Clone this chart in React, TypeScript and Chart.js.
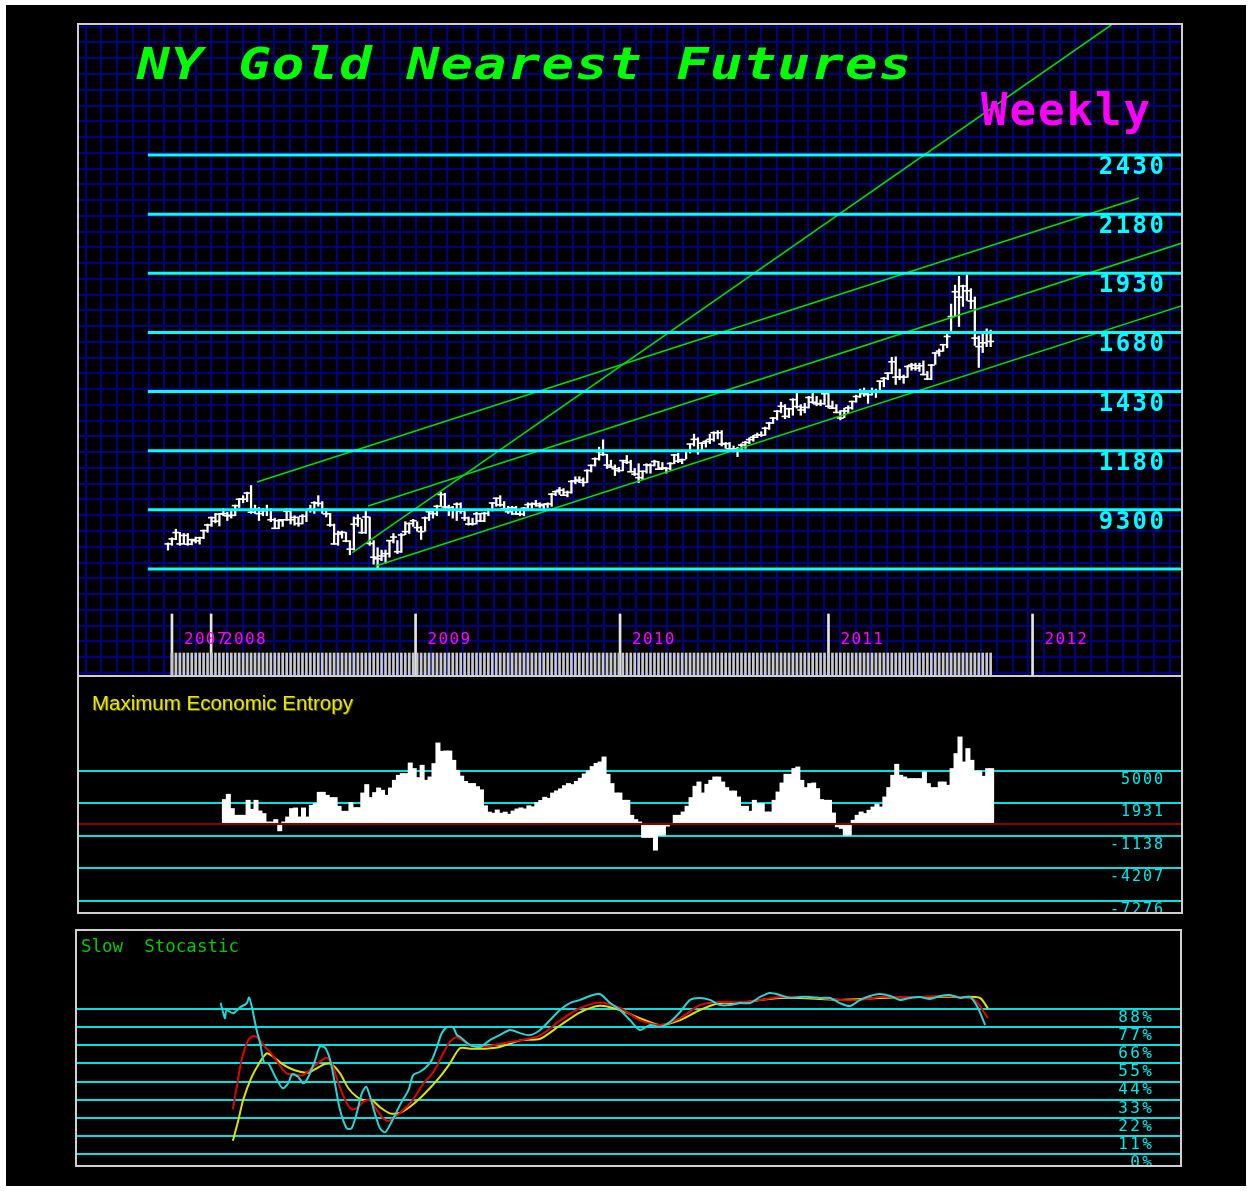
import React, { useEffect, useRef } from 'react';
import { Chart, registerables } from 'chart.js';

Chart.register(...registerables);

// ---------------- data ----------------
// weekly bars, week 0 = late Oct 2007
const weekHigh = [
  790, 812, 848, 835, 830, 830, 806, 815, 815, 845, 870,
  900, 915, 915, 935, 920, 925, 950, 978, 990, 1005,
  1033, 950, 940, 935, 950, 935, 895, 890, 890, 935,
  935, 905, 900, 910, 930, 950, 965, 990, 965, 935,
  915, 870, 840, 840, 835, 800, 900, 910, 890, 925,
  900, 800, 770, 760, 760, 800, 830, 800, 830, 880,
  875, 890, 880, 860, 900, 920, 925, 950, 1005, 1000,
  950, 945, 960, 960, 930, 900, 895, 920, 915, 920,
  935, 960, 980, 990, 965, 945, 945, 945, 925, 940,
  960, 960, 970, 960, 955, 960, 1000, 1010, 1025, 1020,
  1010, 1055, 1070, 1070, 1065, 1100, 1120, 1150, 1195, 1226,
  1165, 1140, 1120, 1110, 1140, 1160, 1140, 1105, 1125, 1095,
  1125, 1125, 1140, 1135, 1130, 1110, 1130, 1165, 1170, 1145,
  1180, 1210, 1250, 1235, 1215, 1225, 1250, 1260, 1265, 1265,
  1215, 1215, 1200, 1195, 1210, 1220, 1235, 1245, 1255, 1260,
  1280, 1300, 1320, 1350, 1385, 1375, 1360, 1400, 1425, 1375,
  1380, 1410, 1432, 1410, 1395, 1425, 1425, 1390, 1375, 1350,
  1360, 1370, 1390, 1415, 1440, 1445, 1430, 1445, 1440, 1475,
  1490, 1510, 1575, 1577, 1525, 1500, 1540, 1550, 1550, 1550,
  1560, 1515, 1545, 1595, 1610, 1630, 1680, 1800, 1880, 1917,
  1880, 1923, 1865, 1830, 1665, 1680, 1695, 1690,
];
const weekLow = [
  760, 780, 804, 780, 785, 780, 782, 790, 785, 808, 835,
  860, 875, 862, 905, 885, 895, 905, 940, 960, 965,
  915, 915, 885, 905, 905, 880, 850, 850, 860, 885,
  870, 865, 860, 870, 880, 920, 915, 945, 915, 900,
  860, 785, 780, 810, 795, 740, 760, 860, 830, 830,
  780, 700, 681, 715, 705, 730, 790, 745, 750, 825,
  830, 860, 840, 805, 840, 885, 895, 905, 945, 935,
  905, 895, 885, 915, 885, 865, 865, 870, 880, 880,
  905, 925, 945, 945, 930, 915, 910, 910, 905, 905,
  935, 930, 945, 940, 935, 940, 945, 990, 995, 990,
  985, 1000, 1040, 1045, 1030, 1045, 1090, 1115, 1140, 1160,
  1105, 1110, 1075, 1090, 1095, 1125, 1090, 1075, 1045, 1058,
  1085, 1085, 1115, 1100, 1100, 1085, 1100, 1125, 1130, 1125,
  1145, 1170, 1200, 1165, 1180, 1195, 1210, 1220, 1230, 1200,
  1190, 1185, 1175, 1155, 1175, 1190, 1210, 1220, 1235, 1240,
  1245, 1270, 1295, 1310, 1340, 1315, 1320, 1330, 1360, 1330,
  1340, 1360, 1380, 1370, 1370, 1375, 1360, 1360, 1340, 1310,
  1320, 1340, 1355, 1385, 1405, 1410, 1380, 1415, 1405, 1425,
  1450, 1480, 1505, 1460, 1480, 1465, 1490, 1520, 1520, 1515,
  1500, 1480, 1480, 1545, 1580, 1600, 1615, 1680, 1750, 1705,
  1790, 1815, 1780, 1625, 1532, 1595, 1620, 1620,
];
const weekClose = [
  786, 807, 834, 786, 822, 785, 804, 799, 812, 842, 866,
  897, 882, 912, 914, 905, 907, 948, 975, 975, 1001,
  920, 933, 914, 926, 930, 888, 852, 884, 888, 924,
  888, 898, 872, 903, 929, 933, 960, 957, 928, 913,
  866, 786, 828, 835, 798, 764, 869, 894, 834, 900,
  788, 730, 723, 735, 745, 800, 815, 753, 824, 838,
  872, 884, 855, 838, 896, 922, 914, 945, 995, 942,
  940, 929, 954, 924, 896, 870, 871, 913, 883, 915,
  930, 959, 979, 951, 935, 922, 939, 913, 912, 937,
  952, 954, 956, 948, 953, 955, 996, 1007, 1013, 992,
  1004, 1050, 1052, 1056, 1046, 1096, 1118, 1146, 1176, 1164,
  1119, 1111, 1104, 1096, 1138, 1131, 1091, 1081, 1066, 1093,
  1120, 1118, 1134, 1102, 1107, 1105, 1126, 1162, 1136, 1142,
  1180, 1208, 1228, 1177, 1212, 1219, 1228, 1256, 1256, 1208,
  1210, 1188, 1188, 1181, 1204, 1215, 1227, 1237, 1246, 1246,
  1275, 1297, 1318, 1347, 1368, 1325, 1357, 1396, 1367, 1352,
  1363, 1405, 1385, 1378, 1379, 1421, 1368, 1360, 1342, 1318,
  1348, 1361, 1388, 1409, 1428, 1421, 1417, 1428, 1429, 1474,
  1486, 1508, 1556, 1491, 1492, 1491, 1536, 1542, 1529, 1539,
  1502, 1483, 1542, 1593, 1601, 1628, 1663, 1747, 1852, 1829,
  1876, 1856, 1813, 1656, 1620, 1636, 1683, 1642,
];

const priceLevels = [2430, 2180, 1930, 1680, 1430, 1180, 930, 680];
const priceLabels = ['2430', '2180', '1930', '1680', '1430', '1180', '9300', ''];

// trend lines: [startWeek, startPrice, endWeek, endPrice]
const trendA = [22.5, 1048, 245.5, 2248];
const trendB = [46.6, 749, 239.2, 2988];
const trendC = [50.6, 946, 256.2, 2057];
const trendD = [52.5, 693, 256.2, 1792];

const yearMarks = [1.0, 10.9, 62.6, 114.3, 167.0, 218.6];
const yearLabels = ['2007', '2008', '2009', '2010', '2011', '2012'];

// Maximum Economic Entropy (weekly, starting at week 14)
const entropyStart = 14;
const entropy = [
  2283, 2783, 1434, 802, 802, 802, 2217, 1368, 2217, 1208,
  962, 170, 170, 396, -679, 170, 642, 1434, 1491, 642,
  1491, 642, 1745, 1906, 2972, 2972, 2689, 2472, 2472, 1651,
  1179, 1179, 2000, 1528, 1528, 2906, 3698, 2472, 2943, 3377,
  3160, 2689, 3377, 4104, 4575, 4736, 4736, 5736, 5208, 4358,
  5519, 4104, 4415, 5679, 7623, 6840, 6868, 6868, 5991, 5047,
  4500, 4000, 3800, 3800, 3500, 3200, 1700, 1100, 1000, 1300,
  1000, 1100, 900, 1200, 1400, 1500, 1400, 1700, 1600, 2000,
  2200, 2500, 2400, 2900, 3100, 3300, 3600, 3800, 3700, 4000,
  4300, 4700, 5000, 5400, 5700,
  5830, 6302, 4670, 3792, 2906, 2906, 2217, 2217, 802, 396,
  170, -1302, -1302, -1302, -2500, -1085, -1085, -236, 0, 802,
  802, 1113, 1651, 2472, 3538, 3943, 2906, 3726, 4104, 4415,
  4415, 3943, 3415, 3094, 3094, 2528, 1651, 1651, 1179, 2217,
  1906, 1906, 1113, 1113, 2217, 3000, 3849, 4670, 4670, 5208,
  5358, 4104, 3415, 3792, 3849, 3321, 2283, 2217, 2217, 1019,
  -302, -453, -1085, -1085, 330, 802, 1113, 962, 1274, 1585,
  1840, 1585, 2528, 3415, 4575, 5613, 4575, 4415, 4264, 4264,
  4264, 4264, 4887, 3792, 3415, 3415, 3943, 3943, 3632, 5208,
  6623, 8189, 5830, 7094, 5991, 4981, 4981, 4481, 5208, 5208,
];
const entropyLevels = [5000, 1931, -1138, -4207, -7276];
const entropyLabels = [' 5000', ' 1931', '-1138', '-4207', '-7276'];

// Slow stochastic: [week, percent]
const stochFast = [
  [13.3, 91.8], [14.4, 82.4], [14.8, 87.4], [16.5, 85.4], [18.2, 89], [19.9, 91.5], [20.5, 95], [21.2, 89.4],
  [22.4, 75.3], [23.3, 67.2], [24.3, 55.5], [25.4, 55.1], [27.1, 47], [29.0, 40], [30.4, 43], [31.4, 48.6],
  [32.9, 47], [34.2, 43], [35.5, 47], [37.2, 57.1], [38.4, 65.2], [39.7, 64.6], [41.0, 57.1], [42.2, 43],
  [43.5, 26.8], [45.2, 15.7], [46.4, 15.7], [47.7, 24.8], [49.0, 36.9], [50.1, 40.9], [51.1, 34.9], [52.3, 24.8],
  [53.6, 15.7], [54.9, 13.3], [56.1, 17.7], [57.4, 23.8], [59.1, 31.9], [60.8, 38.9], [62.0, 48], [63.7, 50],
  [65.4, 53], [66.7, 57.1], [67.9, 64.2], [69.2, 73.3], [70.5, 76.9], [72.1, 76.9], [73.0, 72.3], [73.8, 71.2],
  [76.4, 66.2], [78.9, 65], [81.4, 69.2], [83.9, 72.2], [86.5, 75.3], [89, 73.4], [91.5, 72.2], [94.1, 75.3],
  [96.6, 81.3], [99.1, 87.4], [101.6, 91.6], [104.2, 93.5], [106.7, 95.9], [109.2, 97.1], [111.8, 91.6], [114.3, 87.4],
  [116.8, 81.3], [119.3, 75.3], [121.9, 78.3], [124.4, 77.1], [126.9, 80.1], [129.5, 86.2], [132, 93.5], [134.5, 94.7],
  [137, 93.5], [139.6, 90.4], [142.1, 90.4], [144.6, 91.6], [147.2, 91.6], [149.7, 95.3], [152.2, 97.7], [154.7, 96.5],
  [157.3, 94.7], [159.8, 95.3], [162.3, 95.3], [164.9, 94.7], [167.4, 94.7], [169.9, 91.6], [172.4, 89.8], [175, 93.5],
  [177.5, 95.9], [180, 97.1], [182.6, 95.9], [185.1, 93.5], [187.6, 94.7], [190.1, 95.3], [192.7, 94.1], [195.2, 95.9],
  [197.7, 96.5], [200.3, 94.7], [202.8, 95.3], [204.8, 88.6], [206.6, 78.3],
];
const stochK = [
  [16.4, 27.3], [17.4, 41], [18.6, 57.1], [20.3, 69.2], [21.6, 71.6], [22.8, 70.3], [24.5, 65.2], [25.8, 62.1],
  [27.9, 55.1], [30, 49], [32.1, 48], [34.2, 48], [36.3, 52.1], [38.4, 56.1], [40.1, 58.5], [41.4, 55.1],
  [43.1, 43], [44.8, 32.9], [46.4, 27.3], [48.1, 28.5], [49.4, 31.9], [51.1, 32.9], [52.8, 26.8], [54.4, 21.8],
  [55.7, 20.2], [57, 21.8], [59.5, 26.8], [62, 33.3], [64.6, 43], [66.2, 47], [67.9, 53], [69.6, 61.2],
  [71.3, 68.2], [73, 70.9], [76.4, 66], [80.2, 65], [83.9, 67], [89, 69], [94.1, 72], [99.1, 81],
  [104.2, 88.6], [109.2, 92], [114.3, 88.6], [119.3, 81.3], [124.4, 78.3], [129.5, 82.5], [134.5, 90.4], [139.6, 92.2],
  [144.6, 92.2], [149.7, 93.5], [154.7, 95.3], [159.8, 95.3], [164.9, 94.7], [169.9, 93.5], [175, 93.5], [180, 95.3],
  [185.1, 95.3], [190.1, 95.3], [195.2, 95.9], [200.3, 95.3], [204, 93.5], [207.3, 82.5],
];
const stochD = [
  [16.4, 8.2], [17.8, 20.8], [19, 32.9], [21.2, 47], [23.3, 56.1], [25, 61.2], [26.6, 59.1], [28.7, 55.1],
  [30.8, 52.1], [33.4, 50], [35.5, 49.4], [37.6, 52.1], [39.7, 54.7], [41.4, 54.5], [43.5, 49], [45.6, 40],
  [47.7, 34.9], [49.4, 32.9], [51.5, 32.9], [53.6, 28.5], [56.1, 24.8], [58.7, 25.2], [61.2, 28.8], [63.7, 33.9],
  [66.2, 40], [68.8, 47], [71.3, 55.1], [73.8, 64.2], [76.4, 64], [80.2, 64], [83.9, 65], [89, 69],
  [94.1, 70], [99.1, 78], [104.2, 86], [109.2, 90], [114.3, 87.4], [119.3, 82.5], [124.4, 78.3], [129.5, 81.3],
  [134.5, 87.4], [139.6, 91.6], [144.6, 91.6], [149.7, 93.5], [154.7, 94.7], [159.8, 94.7], [169.9, 93.5], [180, 94.7],
  [190.1, 95.3], [200.3, 95.3], [205.3, 94.7], [207.3, 88.4],
];
const stochLevels = [88, 77, 66, 55, 44, 33, 22, 11, 0];
const stochLabels = ['88%', '77%', '66%', '55%', '44%', '33%', '22%', '11%', ' 0%'];

// ---------------- layout / style ----------------
const X0 = 168; // page x of week 0
const WEEK_PX = 3.955;
const P1 = { left: 79, top: 25, width: 1102, height: 650 };
const P2 = { left: 79, top: 677, width: 1102, height: 235 };
const P3 = { left: 77, top: 931, width: 1103, height: 234 };

const PRICE_REF = 2430;
const PRICE_REF_Y = 155;
const PRICE_PX = 0.23657;
const ENT_ZERO_Y = 823.7;
const ENT_PX = 0.0106;
const STO_ZERO_Y = 1154.3;
const STO_PX = 1.651;

const NAVY = '#00007c';
const CYAN = '#00ffff';
const LEVEL_START = -5.1;

const xRange = (left: number, width: number, off = 0) => ({
  min: (left - X0 - off) / WEEK_PX,
  max: (left + width - X0 - off) / WEEK_PX,
});

function gridVals(origin: number, step: number, size: number) {
  const out: number[] = [];
  let v = origin % step;
  if (v < 0) v += step;
  for (; v <= size; v += step) out.push(v);
  return out;
}

function gridScale(axis: 'x' | 'y', size: number, vals: number[]) {
  return {
    type: 'linear',
    axis,
    position: axis === 'x' ? 'bottom' : 'left',
    min: 0,
    max: size,
    bounds: 'data',
    reverse: axis === 'y',
    ticks: { display: false },
    border: { display: false },
    grid: { color: NAVY, lineWidth: 2, drawTicks: false },
    afterBuildTicks: (s: any) => {
      s.ticks = vals.map((v) => ({ value: v }));
    },
  };
}

function levelScale(min: number, max: number, vals: number[], color: string, width: number, z = -1) {
  return {
    type: 'linear',
    position: 'left',
    min,
    max,
    bounds: 'data',
    ticks: { display: false },
    border: { display: false },
    grid: { color, lineWidth: width, drawTicks: false, z },
    afterBuildTicks: (s: any) => {
      s.ticks = vals.map((v) => ({ value: v }));
    },
  };
}

const baseOptions = {
  responsive: false,
  animation: false,
  events: [],
  layout: { padding: 0, autoPadding: false },
  plugins: { legend: { display: false }, tooltip: { enabled: false }, title: { display: false } },
};

function useChart(makeConfig: () => any) {
  const ref = useRef<HTMLCanvasElement>(null);
  useEffect(() => {
    const chart = new Chart(ref.current as HTMLCanvasElement, makeConfig());
    return () => chart.destroy();
  }, []);
  return ref;
}

// ---------------- panels ----------------
function PriceChart() {
  const ref = useChart(() => {
    const xr = xRange(P1.left, P1.width);
    const yMin = PRICE_REF - (P1.top + P1.height - PRICE_REF_Y) / PRICE_PX;
    const yMax = PRICE_REF + (PRICE_REF_Y - P1.top) / PRICE_PX;
    const trend = (t: number[]) => ({
      type: 'line',
      data: [{ x: t[0], y: t[1] }, { x: t[2], y: t[3] }],
      borderColor: '#00dd00',
      borderWidth: 1.6,
      pointRadius: 0,
      xAxisID: 'x',
      yAxisID: 'y',
    });
    const labelPlugin = {
      id: 'priceLabels',
      afterDatasetsDraw(chart: any) {
        const { ctx, scales } = chart;
        ctx.save();
        ctx.fillStyle = CYAN;
        ctx.font = 'bold 24px "DejaVu Sans Mono"';
        ctx.letterSpacing = '2.5px';
        ctx.textAlign = 'right';
        ctx.textBaseline = 'alphabetic';
        priceLevels.forEach((lv, i) => {
          if (!priceLabels[i]) return;
          ctx.fillText(priceLabels[i], 1164 - P1.left + 2.5, scales.y.getPixelForValue(lv) + 19);
        });
        ctx.fillStyle = '#ff00ff';
        ctx.font = '16px "DejaVu Sans Mono"';
        ctx.letterSpacing = '1.3px';
        ctx.textAlign = 'left';
        yearMarks.forEach((m, i) => {
          ctx.fillText(yearLabels[i], scales.x.getPixelForValue(m) + 12, 644.3 - P1.top);
        });
        ctx.restore();
      },
    };
    return {
      type: 'line',
      data: {
        datasets: [
          ...priceLevels.map((lv) => ({
            type: 'line',
            data: [{ x: LEVEL_START, y: lv }, { x: xr.max + 1, y: lv }],
            borderColor: CYAN,
            borderWidth: 3,
            pointRadius: 0,
            xAxisID: 'x',
            yAxisID: 'y',
          })),
          trend(trendA),
          trend(trendB),
          trend(trendC),
          trend(trendD),
          {
            type: 'bar',
            data: weekHigh.map((h, i) => ({ x: i, y: [weekLow[i], h] })),
            backgroundColor: '#ffffff',
            barThickness: 1.6,
            grouped: false,
            xAxisID: 'x',
            yAxisID: 'y',
          },
          {
            type: 'line',
            data: weekClose.map((c, i) => ({ x: i, y: c })),
            showLine: false,
            pointStyle: 'line',
            pointRadius: 3.5,
            pointBorderWidth: 1.6,
            pointBorderColor: '#ffffff',
            pointBackgroundColor: '#ffffff',
            xAxisID: 'x',
            yAxisID: 'y',
          },
          {
            type: 'bar',
            data: weekClose.slice(1).map((_, i) => ({ x: i + 1, y: [0, 22] })),
            backgroundColor: '#c8c8c8',
            barThickness: 2,
            grouped: false,
            xAxisID: 'x',
            yAxisID: 'yd',
          },
          {
            type: 'bar',
            data: yearMarks.map((m) => ({ x: m, y: [0, 61] })),
            backgroundColor: '#e4e4e4',
            barThickness: 2,
            grouped: false,
            xAxisID: 'x',
            yAxisID: 'yd',
          },
        ],
      },
      options: {
        ...baseOptions,
        scales: {
          x: { type: 'linear', display: false, min: xr.min, max: xr.max, bounds: 'data', offset: false },
          y: { type: 'linear', display: false, min: yMin, max: yMax, bounds: 'data' },
          yd: { type: 'linear', display: false, min: 0, max: P1.height, bounds: 'data' },
          gx: gridScale('x', P1.width, gridVals(164.3 - P1.left, 15.71, P1.width)),
          gy: gridScale('y', P1.height, gridVals(26.7 - P1.top, 15.76, P1.height)),
        },
      },
      plugins: [labelPlugin],
    };
  });
  return <canvas ref={ref} width={P1.width} height={P1.height} style={{ position: 'absolute', left: P1.left, top: P1.top }} />;
}

function EntropyChart() {
  const ref = useChart(() => {
    const xr = xRange(P2.left, P2.width, 1);
    const yMin = (ENT_ZERO_Y - (P2.top + P2.height)) / ENT_PX;
    const yMax = (ENT_ZERO_Y - P2.top) / ENT_PX;
    const labelPlugin = {
      id: 'entLabels',
      afterDraw(chart: any) {
        const { ctx, scales } = chart;
        ctx.save();
        ctx.fillStyle = '#00e8e8';
        ctx.font = '15px "DejaVu Sans Mono"';
        ctx.letterSpacing = '2px';
        ctx.textAlign = 'left';
        ctx.textBaseline = 'alphabetic';
        entropyLevels.forEach((lv, i) => {
          ctx.fillText(entropyLabels[i], 1110 - P2.left, scales.y.getPixelForValue(lv) + 12.8);
        });
        ctx.restore();
      },
    };
    return {
      type: 'bar',
      data: {
        datasets: [
          {
            type: 'bar',
            data: entropy.map((v, i) => ({ x: entropyStart + i, y: v })),
            backgroundColor: '#ffffff',
            barThickness: WEEK_PX + 0.4,
            grouped: false,
            xAxisID: 'x',
            yAxisID: 'y',
          },
        ],
      },
      options: {
        ...baseOptions,
        scales: {
          x: { type: 'linear', display: false, min: xr.min, max: xr.max, bounds: 'data', offset: false },
          y: levelScale(yMin, yMax, entropyLevels, '#00e0e0', 2),
          yz: levelScale(yMin, yMax, [0], '#8a0000', 2, 1),
        },
      },
      plugins: [labelPlugin],
    };
  });
  return <canvas ref={ref} width={P2.width} height={P2.height} style={{ position: 'absolute', left: P2.left, top: P2.top }} />;
}

function StochChart() {
  const ref = useChart(() => {
    const xr = xRange(P3.left, P3.width);
    const yMin = (STO_ZERO_Y - (P3.top + P3.height)) / STO_PX;
    const yMax = (STO_ZERO_Y - P3.top) / STO_PX;
    const line = (pts: number[][], color: string) => ({
      type: 'line',
      data: pts.map((p) => ({ x: p[0], y: p[1] })),
      borderColor: color,
      borderWidth: 2,
      pointRadius: 0,
      tension: 0.25,
      xAxisID: 'x',
      yAxisID: 'y',
    });
    const labelPlugin = {
      id: 'stoLabels',
      afterDraw(chart: any) {
        const { ctx, scales } = chart;
        ctx.save();
        ctx.fillStyle = '#00e8e8';
        ctx.font = '16px "DejaVu Sans Mono"';
        ctx.letterSpacing = '2.3px';
        ctx.textAlign = 'left';
        ctx.textBaseline = 'alphabetic';
        stochLevels.forEach((lv, i) => {
          ctx.fillText(stochLabels[i], 1118.3 - P3.left, scales.y.getPixelForValue(lv) + 12.7);
        });
        ctx.restore();
      },
    };
    return {
      type: 'line',
      data: {
        datasets: [line(stochFast, '#28d4d4'), line(stochK, '#e00000'), line(stochD, '#e0e000')],
      },
      options: {
        ...baseOptions,
        scales: {
          x: { type: 'linear', display: false, min: xr.min, max: xr.max, bounds: 'data', offset: false },
          y: levelScale(yMin, yMax, stochLevels, '#00e0e0', 2),
        },
      },
      plugins: [labelPlugin],
    };
  });
  return <canvas ref={ref} width={P3.width} height={P3.height} style={{ position: 'absolute', left: P3.left, top: P3.top }} />;
}

const frame = (left: number, top: number, width: number, height: number): React.CSSProperties => ({
  position: 'absolute',
  left,
  top,
  width,
  height,
  border: '2px solid #cfcfcf',
  boxSizing: 'border-box',
  pointerEvents: 'none',
});

export default function App() {
  return (
    <div style={{ position: 'absolute', left: 0, top: 0, width: 1252, height: 1191, background: '#ffffff', overflow: 'hidden' }}>
      <div style={{ position: 'absolute', left: 6, top: 5, width: 1240, height: 1181, background: '#000000' }} />
      <PriceChart />
      <EntropyChart />
      <StochChart />
      <div style={frame(77, 23, 1106, 654)} />
      <div style={frame(77, 675, 1106, 239)} />
      <div style={frame(75, 929, 1107, 238)} />
      <div
        style={{
          position: 'absolute',
          left: 137,
          top: 41,
          font: 'italic bold 45px "DejaVu Sans Mono"',
          lineHeight: '45px',
          letterSpacing: '1px',
          color: '#00ff00',
          whiteSpace: 'pre',
          transform: 'scaleX(1.2)',
          transformOrigin: '0 0',
        }}
      >
        NY Gold Nearest Futures
      </div>
      <div
        style={{
          position: 'absolute',
          left: 981,
          top: 88,
          font: 'bold 44px "DejaVu Sans Mono"',
          lineHeight: '44px',
          letterSpacing: '2px',
          color: '#ff00ff',
          whiteSpace: 'pre',
        }}
      >
        Weekly
      </div>
      <div
        style={{
          position: 'absolute',
          left: 92,
          top: 693,
          font: '20.5px "Liberation Sans", Arial, sans-serif',
          lineHeight: '20.5px',
          color: '#e6e600',
          textShadow: '1px 1px 0 #5a5a00',
          whiteSpace: 'pre',
        }}
      >
        Maximum Economic Entropy
      </div>
      <div
        style={{
          position: 'absolute',
          left: 81,
          top: 938,
          font: '17.5px "DejaVu Sans Mono"',
          lineHeight: '17.5px',
          color: '#00c800',
          whiteSpace: 'pre',
        }}
      >
        {'Slow  Stocastic'}
      </div>
    </div>
  );
}
